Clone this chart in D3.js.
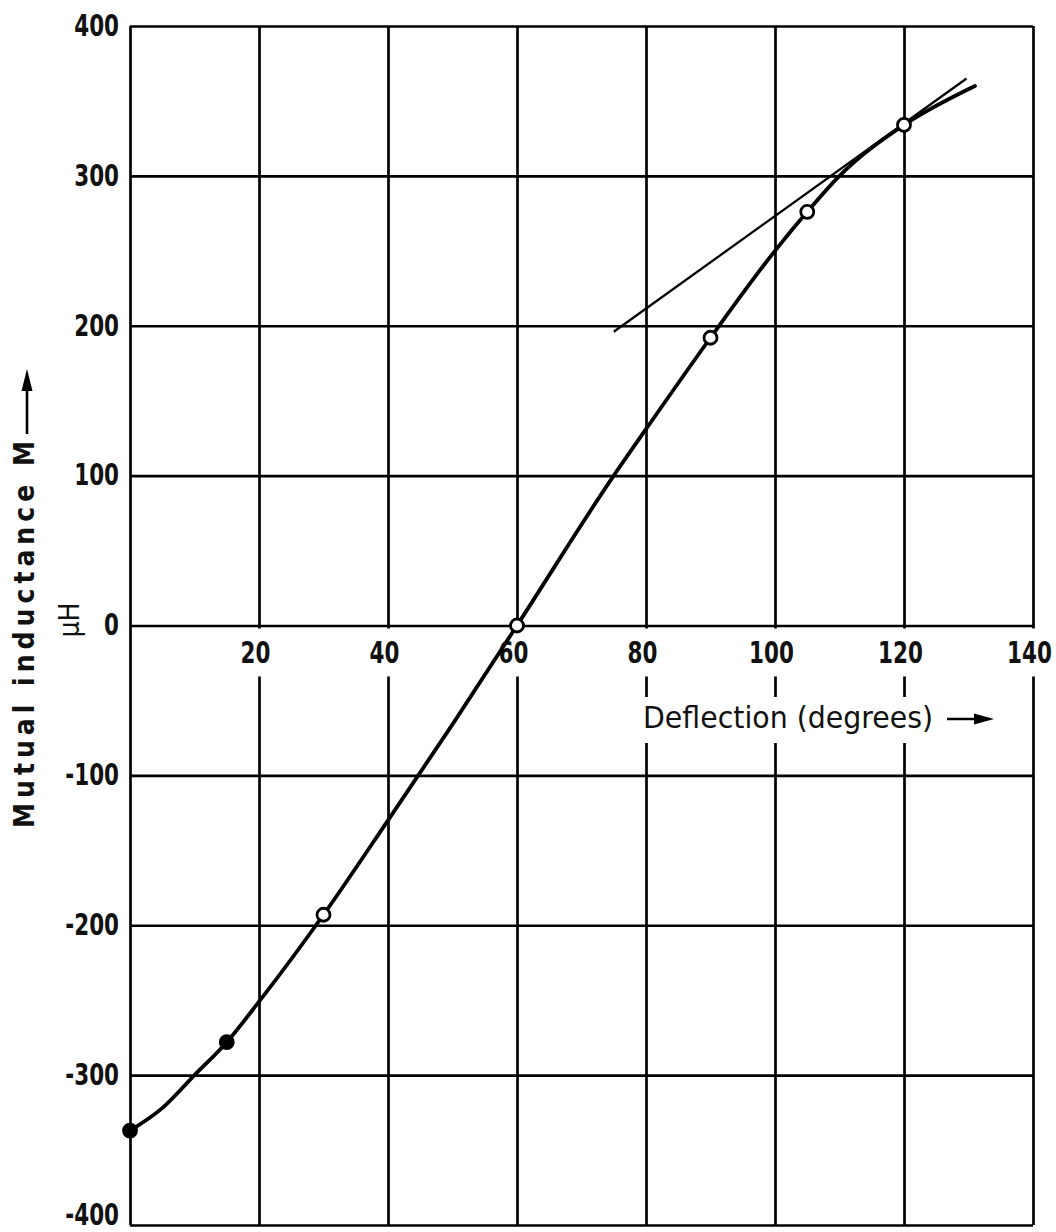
<!DOCTYPE html>
<html>
<head>
<meta charset="utf-8">
<script src="https://cdn.jsdelivr.net/npm/d3@7"></script>
<style>
  html, body { margin: 0; padding: 0; background: #fff; }
  svg { display: block; }
  .tick-lbl { font-family: "DejaVu Sans Condensed", "DejaVu Sans", sans-serif; font-weight: bold; font-size: 31px; fill: #111; }
</style>
</head>
<body>
<svg id="chart" width="1056" height="1232"></svg>
<script>
// ---- data ----
const xGrid = [0, 20, 40, 60, 80, 100, 120, 140];
const yGrid = [400, 300, 200, 100, 0, -100, -200, -300, -400];
const xTicks = [20, 40, 60, 80, 100, 120, 140];
const xTickLabels = ["20", "40", "60", "80", "100", "120", "140"];
const yTicks = [400, 300, 200, 100, 0, -100, -200, -300, -400];
const yTickLabels = ["400", "300", "200", "100", "0", "-100", "-200", "-300", "-400"];

// measured points (deflection in degrees, M in microhenry)
const pointDeflection = [0, 15, 30, 60, 90, 105, 120];
const pointM = [-337, -278, -193, 0, 192, 276, 334];
const pointFilled = [true, true, false, false, false, false, false];

// smooth curve traced through the drawn line
const curveDeflection = [0, 5, 10, 15, 20, 30, 40, 50, 60, 75, 80, 90, 100, 105, 110, 120, 131];
const curveM = [-337, -322, -300, -278, -251, -193, -130, -66, 0, 100, 131, 192, 250, 276, 300, 334, 360];

// tangent line drawn at the upper end
const tangentDeflection = [75, 129.7];
const tangentM = [196, 365];

const xTitle = "Deflection (degrees)";
const yTitle = "Mutual inductance M";
const yUnit = "\u03BCH";

// ---- drawing ----
const svg = d3.select("#chart");
svg.append("rect").attr("width", 1056).attr("height", 1232).attr("fill", "#fff");

const x = d3.scaleLinear().domain([0, 140]).range([130, 1033]);
const y = d3.scaleLinear().domain([-400, 400]).range([1225, 26]);

// the original lettering is narrow: squeeze the tick labels horizontally
const squeeze = 0.77;
const labelWidth = s => Array.from(s).reduce((w, c) => w + (c === "-" ? 11 : 15), 0);

// vertical grid lines
const gx = svg.append("g")
  .attr("transform", `translate(0,${y(400)})`)
  .call(d3.axisBottom(x).tickValues(xGrid).tickSize(y(-400) - y(400)).tickFormat(""));
gx.select(".domain").remove();
gx.selectAll(".tick line").attr("stroke", "#000").attr("stroke-width", 2.7);

// horizontal grid lines
const gy = svg.append("g")
  .attr("transform", `translate(${x(0)},0)`)
  .call(d3.axisRight(y).tickValues(yGrid).tickSize(x(140) - x(0)).tickFormat(""));
gy.select(".domain").remove();
gy.selectAll(".tick line").attr("stroke", "#000").attr("stroke-width", 2.7);

// x tick labels (under the zero line, grid interrupted behind them)
const xAxisG = svg.append("g")
  .attr("transform", `translate(0,${y(0)})`)
  .call(d3.axisBottom(x).tickValues(xTicks).tickSize(0).tickPadding(16)
        .tickFormat((d, i) => xTickLabels[i]));
xAxisG.select(".domain").remove();
xAxisG.selectAll(".tick").each(function (d, i) {
  const w = labelWidth(xTickLabels[i]);
  d3.select(this).insert("rect", "text")
    .attr("x", -4 - w / 2 - 7).attr("y", 3)
    .attr("width", w + 14).attr("height", 48)
    .attr("fill", "#fff");
});
xAxisG.selectAll(".tick text")
  .attr("class", "tick-lbl")
  .attr("x", -4 / squeeze)
  .attr("transform", `scale(${squeeze},1)`);

// x axis title with arrow
const titleG = svg.append("g");
titleG.append("rect").attr("x", x(78.5)).attr("y", 697).attr("width", 362).attr("height", 46).attr("fill", "#fff");
titleG.append("text")
  .attr("x", 643).attr("y", 728)
  .attr("font-family", "'DejaVu Sans Condensed', 'DejaVu Sans', sans-serif")
  .attr("font-size", 31).attr("fill", "#111")
  .attr("textLength", 290).attr("lengthAdjust", "spacingAndGlyphs")
  .text(xTitle);
titleG.append("line").attr("x1", 947).attr("y1", 719).attr("x2", 978).attr("y2", 719)
  .attr("stroke", "#000").attr("stroke-width", 2.5);
titleG.append("path").attr("d", "M974,713.5 L994,719 L974,724.5 Z").attr("fill", "#000");

// y tick labels
const yAxisG = svg.append("g")
  .attr("transform", `translate(${x(0)},0)`)
  .call(d3.axisLeft(y).tickValues(yTicks).tickSize(0).tickPadding(11)
        .tickFormat((d, i) => yTickLabels[i]));
yAxisG.select(".domain").remove();
yAxisG.selectAll(".tick text")
  .attr("class", "tick-lbl")
  .attr("x", -11 / squeeze)
  .attr("transform", `scale(${squeeze},1)`)
  .attr("dy", (d, i) => i === yTicks.length - 1 ? "-0.02em" : "0.3em");

// y axis title (rotated) with arrow and unit
svg.append("text")
  .attr("transform", "translate(34,828) rotate(-90)")
  .attr("font-family", "'DejaVu Sans Condensed', 'DejaVu Sans', sans-serif")
  .attr("font-weight", "bold").attr("font-size", 28).attr("fill", "#111")
  .attr("textLength", 387).attr("lengthAdjust", "spacing")
  .text(yTitle);
svg.append("line").attr("x1", 27).attr("y1", 434).attr("x2", 27).attr("y2", 386)
  .attr("stroke", "#000").attr("stroke-width", 2.6);
svg.append("path").attr("d", "M21.5,391 L27,369 L32.5,391 Z").attr("fill", "#000");
svg.append("text")
  .attr("transform", "translate(79,620) rotate(-90)")
  .attr("text-anchor", "middle")
  .attr("font-family", "'DejaVu Sans Condensed', 'DejaVu Sans', sans-serif")
  .attr("font-size", 28).attr("fill", "#111")
  .text(yUnit);

// tangent line
const tangentData = tangentDeflection.map((d, i) => [d, tangentM[i]]);
svg.append("path")
  .datum(tangentData)
  .attr("d", d3.line().x(d => x(d[0])).y(d => y(d[1])))
  .attr("fill", "none").attr("stroke", "#000").attr("stroke-width", 2.3);

// characteristic curve
const curveData = curveDeflection.map((d, i) => [d, curveM[i]]);
svg.append("path")
  .datum(curveData)
  .attr("d", d3.line().x(d => x(d[0])).y(d => y(d[1])).curve(d3.curveMonotoneX))
  .attr("fill", "none").attr("stroke", "#000").attr("stroke-width", 3.8)
  .attr("stroke-linecap", "round").attr("stroke-linejoin", "round");

// measured points
const pts = pointDeflection.map((d, i) => ({ d, m: pointM[i], f: pointFilled[i] }));
svg.append("g").selectAll("circle")
  .data(pts)
  .join("circle")
  .attr("cx", p => x(p.d)).attr("cy", p => y(p.m))
  .attr("r", 6.5)
  .attr("fill", p => p.f ? "#000" : "#fff")
  .attr("stroke", "#000").attr("stroke-width", 2.8);
</script>
</body>
</html>
